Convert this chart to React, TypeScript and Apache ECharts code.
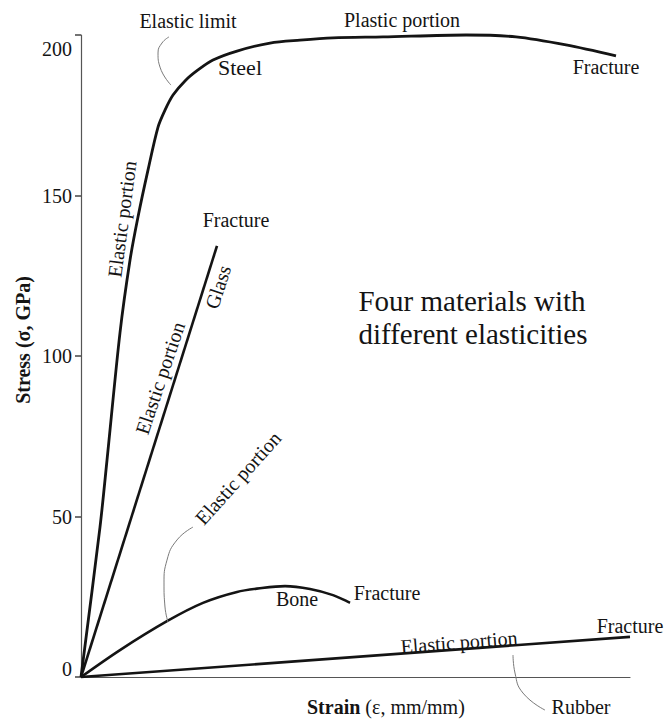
import React, { useEffect, useRef } from "react";
import * as echarts from "echarts";

// Strain (arbitrary units 0-100) vs stress (GPa)
const steelStrain = [0, 3.46, 4.74, 7.1, 8.93, 10.38, 12.2, 14.03, 15.3, 16.76, 18.94, 21.31, 24.04, 28.42, 34.43, 39.89, 45.9, 55.01, 70.13, 79.23, 88.34, 97.45];
const steelStress = [0, 46.7, 67.6, 107.2, 129.9, 143.3, 157.9, 171.3, 176.6, 181.3, 185.7, 189.1, 192.2, 195.0, 197.5, 198.4, 199.1, 199.4, 200.0, 199.4, 196.9, 193.5];
const glassStrain = [0, 24.77];
const glassStress = [0, 134.3];
const boneStrain = [0, 7.1, 15.66, 22.22, 28.42, 32.97, 37.16, 41.71, 45.9, 49.0];
const boneStress = [0, 8.4, 17.4, 23.1, 26.5, 27.7, 28.3, 27.4, 25.5, 23.1];
const rubberStrain = [0, 100];
const rubberStress = [0, 12.5];

// thin leader lines for annotations
const limitLeaderX = [16.03, 14.75, 14.03, 14.39, 16.39];
const limitLeaderY = [199.4, 197.5, 194.4, 190.0, 184.4];
const boneLeaderX = [20.4, 17.49, 15.66, 15.12, 15.3, 15.85];
const boneLeaderY = [46.7, 42.7, 36.4, 29.3, 21.8, 17.1];
const rubberLeaderX = [78.69, 79.05, 80.51, 84.52];
const rubberLeaderY = [6.85, 1.25, -5.0, -10.3];

const yTicks = [0, 50, 100, 150, 200];

const zip = (xs: number[], ys: number[]) => xs.map((x, i) => [x, ys[i]]);

const SERIF = "Liberation Serif";
const INK = "#141414";

export default function App() {
  const ref = useRef<HTMLDivElement>(null);
  useEffect(() => {
    if (!ref.current) return;
    const chart = echarts.init(ref.current, undefined, { renderer: "svg" });
    const curve = (name: string, xs: number[], ys: number[], smooth: number | boolean, width = 2.6) => ({
      name,
      type: "line",
      data: zip(xs, ys),
      smooth,
      symbol: "none",
      clip: false,
      lineStyle: { color: INK, width },
    });
    const leader = (name: string, xs: number[], ys: number[]) => ({
      name,
      type: "line",
      data: zip(xs, ys),
      smooth: 0.5,
      symbol: "none",
      clip: false,
      lineStyle: { color: "#7a7a7a", width: 1 },
    });
    const label = (text: string, x: number, y: number, rotDeg = 0, size = 20) => ({
      type: "text",
      x,
      y,
      rotation: (rotDeg * Math.PI) / 180,
      style: { text, fontSize: size, fontFamily: SERIF, fill: INK, align: "center", verticalAlign: "middle" },
    });
    const tickFont = { fontSize: 20, fontFamily: SERIF, color: INK };
    chart.setOption({
      animation: false,
      backgroundColor: "#ffffff",
      textStyle: { fontFamily: SERIF },
      grid: { left: 81, right: 36, top: 35, bottom: 43 },
      xAxis: {
        type: "value",
        min: 0,
        max: 100,
        axisLine: { show: true, lineStyle: { color: "#555", width: 1.2 } },
        axisTick: { show: false },
        axisLabel: { show: false },
        splitLine: { show: false },
      },
      yAxis: {
        type: "value",
        min: yTicks[0],
        max: yTicks[yTicks.length - 1],
        interval: 50,
        axisLine: { show: true, lineStyle: { color: "#555", width: 1.2 } },
        axisTick: { show: true, length: 6, lineStyle: { color: "#444", width: 1.5 } },
        axisLabel: {
          show: true,
          margin: 9,
          ...tickFont,
          formatter: (v: number) => (v === 200 ? "{top|200}" : v === 0 ? "{zero|0}" : "{mid|" + v + "}"),
          rich: {
            top: { ...tickFont, padding: [28, 0, 0, 0] },
            zero: { ...tickFont, padding: [0, 0, 16, 0] },
            mid: { ...tickFont },
          },
        },
        splitLine: { show: false },
      },
      series: [
        curve("Steel", steelStrain, steelStress, 0.3, 2.8),
        curve("Glass", glassStrain, glassStress, false),
        curve("Bone", boneStrain, boneStress, 0.3),
        curve("Rubber", rubberStrain, rubberStress, false),
        leader("limitLeader", limitLeaderX, limitLeaderY),
        leader("boneLeader", boneLeaderX, boneLeaderY),
        leader("rubberLeader", rubberLeaderX, rubberLeaderY),
      ],
      graphic: [
        label("Elastic limit", 188, 21),
        label("Plastic portion", 402, 20),
        label("Steel", 240, 67, 0, 22),
        label("Fracture", 606, 67),
        label("Elastic portion", 122, 219, 82.5),
        label("Fracture", 236, 220),
        label("Glass", 218, 287, 72),
        label("Elastic portion", 160, 378, 71.4),
        label("Elastic portion", 238, 478, 48),
        label("Bone", 297, 599),
        label("Fracture", 387, 593),
        label("Elastic portion", 459, 642, 4.5),
        label("Fracture", 630, 626),
        label("Rubber", 581, 707),
        label("Four materials with", 472, 301, 0, 29),
        label("different elasticities", 473, 334, 0, 29),
        {
          type: "text",
          x: 23,
          y: 340,
          rotation: Math.PI / 2,
          style: {
            text: "Stress (σ, GPa)",
            fontSize: 20,
            fontWeight: "bold",
            fontFamily: SERIF,
            fill: INK,
            align: "center",
            verticalAlign: "middle",
          },
        },
        {
          type: "text",
          x: 307,
          y: 707,
          style: {
            text: "{b|Strain} (ε, mm/mm)",
            fontSize: 20,
            fontFamily: SERIF,
            fill: INK,
            align: "left",
            verticalAlign: "middle",
            rich: { b: { fontSize: 20, fontWeight: "bold", fontFamily: SERIF, fill: INK } },
          },
        },
      ],
    });
    return () => chart.dispose();
  }, []);
  return <div ref={ref} style={{ position: "fixed", left: 0, top: 0, width: 666, height: 720, background: "#fff" }} />;
}
